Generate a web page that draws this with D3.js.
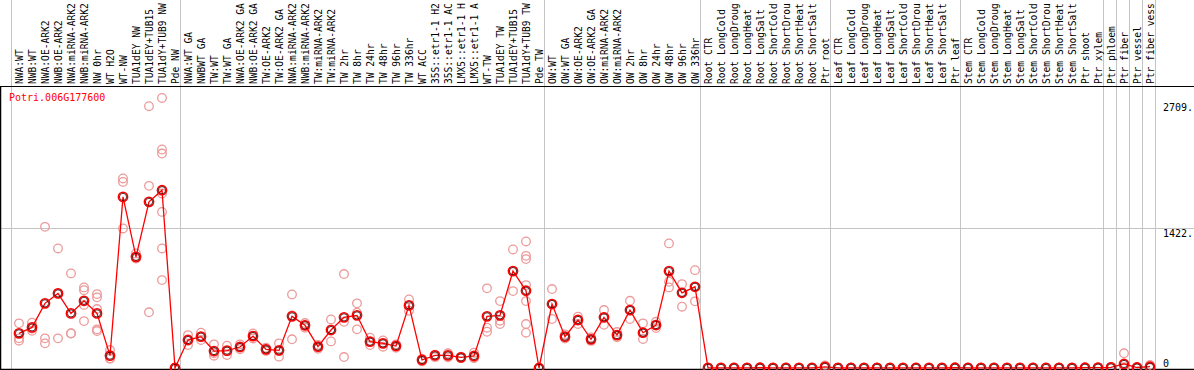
<!DOCTYPE html>
<html>
<head>
<meta charset="utf-8">
<script src="https://cdn.jsdelivr.net/npm/d3@7"></script>
<style>
  body { margin: 0; background: #fff; }
  svg { display: block; }
  text { font-family: "DejaVu Sans Mono", monospace; font-size: 10px; }
</style>
</head>
<body>
<script>
var width = 1194;
var height = 370;

var geneId = "Potri.006G177600";

var categories = [
  "NWA:WT", "NWB:WT", "NWA:OE-ARK2", "NWB:OE-ARK2", "NWA:miRNA-ARK2", "NWB:miRNA-ARK2",
  "NW 0hr", "WT H2O", "WT-NW", "TUA1dEY NW", "TUA1dEY+TUB15", "TUA1dY+TUB9 NW", "Pde NW",
  "NWA:WT GA", "NWBWT GA", "TW:WT", "TW:WT GA", "NWA:OE-ARK2 GA", "NWB:OE-ARK2 GA",
  "TW:OE-ARK2", "TW:OE-ARK2 GA", "NWA:miRNA-ARK2", "NWB:miRNA-ARK2", "TW:miRNA-ARK2",
  "TW:miRNA-ARK2", "TW 2hr", "TW 8hr", "TW 24hr", "TW 48hr", "TW 96hr", "TW 336hr",
  "WT ACC", "35S::etr1-1 H2O", "35S::etr1-1 ACC", "LMX5::etr1-1 H2O", "LMX5::etr1-1 ACC",
  "WT-TW", "TUA1dEY TW", "TUA1dEY+TUB15 TW", "TUA1dY+TUB9 TW", "Pde TW",
  "OW:WT", "OW:WT GA", "OW:OE-ARK2", "OW:OE-ARK2 GA", "OW:miRNA-ARK2", "OW:miRNA-ARK2",
  "OW 2hr", "OW 8hr", "OW 24hr", "OW 48hr", "OW 96hr", "OW 336hr",
  "Root CTR", "Root LongCold", "Root LongDrought", "Root LongHeat", "Root LongSalt",
  "Root ShortCold", "Root ShortDrought", "Root ShortHeat", "Root ShortSalt", "Ptr root",
  "Leaf CTR", "Leaf LongCold", "Leaf LongDrought", "Leaf LongHeat", "Leaf LongSalt",
  "Leaf ShortCold", "Leaf ShortDrought", "Leaf ShortHeat", "Leaf ShortSalt", "Ptr leaf",
  "Stem CTR", "Stem LongCold", "Stem LongDrought", "Stem LongHeat", "Stem LongSalt",
  "Stem ShortCold", "Stem ShortDrought", "Stem ShortHeat", "Stem ShortSalt", "Ptr shoot",
  "Ptr xylem", "Ptr phloem", "Ptr fiber", "Ptr vessel", "Ptr fiber vessel"
];

// mean expression per sample
var means = [
  352, 412, 656, 757, 554, 682, 554, 125, 1736, 1128, 1686, 1804, 0,
  284, 318, 172, 176, 213, 324, 189, 179, 524, 433, 216, 385, 514, 534, 267, 250, 223, 635,
  81, 128, 128, 108, 122, 524, 534, 983, 784, 0,
  649, 318, 487, 291, 514, 334, 588, 358, 436, 983, 763, 824,
  2, 1, 2, 1, 3, 1, 2, 1, 2, 12,
  1, 2, 1, 2, 1, 1, 2, 1, 1, 3,
  2, 1, 2, 1, 1, 2, 1, 2, 1, 3,
  4, 6, 41, 5, 13
];

// replicate values per sample
var replicates = [
  [453, 301, 277], [459, 400, 377], [1432, 301, 250], [1213, 757, 301], [960, 352, 350],
  [818, 790, 476, 640], [750, 717, 598, 392, 375], [182, 98, 95], [1923, 1888, 1416],
  [1162, 1112, 1110], [2656, 1848, 565], [2740, 2217, 2176, 1771, 1584, 1213, 892], [0, 0, 0],
  [334, 284, 233], [358, 318, 284], [240, 150, 125], [226, 170, 132], [240, 213, 190],
  [350, 324, 300], [205, 189, 172], [250, 172, 115], [747, 534, 291], [456, 433, 409],
  [235, 216, 196], [493, 392, 270], [953, 469, 111], [656, 561, 392], [307, 267, 233],
  [280, 250, 216], [240, 223, 205], [696, 635, 581],
  [95, 81, 67], [135, 128, 110], [149, 128, 108], [115, 108, 100], [155, 110, 100],
  [808, 409, 368], [679, 480, 446], [1203, 983, 780], [1284, 1138, 1105, 841, 679, 446, 358], [0, 0, 0],
  [801, 649, 497], [340, 318, 300], [520, 487, 446], [310, 291, 275], [588, 514, 439],
  [365, 334, 311], [682, 588, 497], [453, 358, 294], [469, 436, 405], [1264, 875, 818],
  [851, 763, 622], [993, 824, 676],
  [3, 2, 1], [2, 1, 0], [3, 2, 1], [2, 1, 0], [4, 3, 2], [2, 1, 0], [3, 2, 1], [2, 1, 0], [3, 2, 1], [25, 8, 4],
  [2, 1, 0], [3, 2, 1], [2, 1, 0], [3, 2, 1], [2, 1, 0], [2, 1, 0], [3, 2, 1], [2, 1, 0], [2, 1, 0], [6, 2, 1],
  [3, 2, 1], [2, 1, 0], [3, 2, 1], [2, 1, 0], [2, 1, 0], [3, 2, 1], [2, 1, 0], [3, 2, 1], [2, 1, 0], [5, 3, 1],
  [6, 4, 2], [10, 5, 3], [149, 5, 6, 4], [8, 4, 3], [30, 8, 2]
];

// index where each sample group starts (separator lines)
var groupStarts = [0, 13, 41, 53, 63, 73, 84, 85, 86, 87, 88];

var yTicks = [0, 1422, 2709];
var yTickLabels = ["0", "1422.", "2709."];
var yGrid = [1422];

var headerH = 86;
var maxChars = 14;   // header only has room for this many characters

var svg = d3.select("body").append("svg")
  .attr("width", width)
  .attr("height", height);

var x = d3.scaleLinear().domain([0, categories.length - 1]).range([19, 19 + 13 * (categories.length - 1)]);
var y = d3.scaleLinear().domain([0, 2709]).range([368, 101]);

// group separators
svg.selectAll("line.sep")
  .data(groupStarts)
  .enter()
  .append("line")
  .attr("class", "sep")
  .attr("x1", function(d){ return Math.round(x(d) - 8) + 0.5; })
  .attr("x2", function(d){ return Math.round(x(d) - 8) + 0.5; })
  .attr("y1", 0)
  .attr("y2", height)
  .attr("stroke", "#c4c4c4")
  .attr("stroke-width", 1);

// horizontal grid
svg.selectAll("line.grid")
  .data(yGrid)
  .enter()
  .append("line")
  .attr("class", "grid")
  .attr("x1", 0)
  .attr("x2", width)
  .attr("y1", function(d){ return Math.round(y(d)) + 0.5; })
  .attr("y2", function(d){ return Math.round(y(d)) + 0.5; })
  .attr("stroke", "#c4c4c4");

// frame
svg.append("line").attr("x1", 0).attr("x2", width).attr("y1", headerH + 0.5).attr("y2", headerH + 0.5)
  .attr("stroke", "#000");
svg.append("line").attr("x1", 0).attr("x2", width).attr("y1", height - 0.5).attr("y2", height - 0.5)
  .attr("stroke", "#000").attr("stroke-width", 1.5);
svg.append("line").attr("x1", 0.5).attr("x2", 0.5).attr("y1", headerH).attr("y2", height)
  .attr("stroke", "#000").attr("stroke-width", 1.5);

// sample labels, vertical
svg.selectAll("text.cat")
  .data(categories)
  .enter()
  .append("text")
  .attr("class", "cat")
  .attr("transform", function(d, i){ return "translate(" + (x(i) + 4) + "," + (headerH - 2) + ") rotate(-90)"; })
  .style("font-size", "9.6px")
  .attr("fill", "#000")
  .text(function(d){ return d.length > maxChars ? d.slice(0, maxChars) : d; });

// y axis on the right
var yAxis = d3.axisRight(y)
  .tickValues(yTicks)
  .tickSize(0)
  .tickFormat(function(d, i){ return yTickLabels[i]; });

var ax = svg.append("g")
  .attr("transform", "translate(1160,0)")
  .call(yAxis);
ax.select(".domain").remove();
ax.selectAll("text")
  .attr("x", 3)
  .attr("dy", function(d){ return d === 0 ? "-0.2em" : "0.9em"; })
  .style("font-family", "'DejaVu Sans Mono', monospace")
  .style("font-size", "10px")
  .attr("fill", "#000");

// title
svg.append("text")
  .attr("x", 9)
  .attr("y", 101)
  .attr("fill", "#f00")
  .text(geneId);

// replicate points
var repPts = [];
replicates.forEach(function(r, i){
  r.forEach(function(v){ repPts.push({ i: i, v: v }); });
});

svg.selectAll("circle.rep")
  .data(repPts)
  .enter()
  .append("circle")
  .attr("class", "rep")
  .attr("cx", function(d){ return x(d.i); })
  .attr("cy", function(d){ return y(d.v); })
  .attr("r", 4.3)
  .attr("fill", "none")
  .attr("stroke", "#ec9a9a")
  .attr("stroke-width", 1.3);

// mean line
var line = d3.line()
  .x(function(d, i){ return x(i); })
  .y(function(d){ return y(d); });

svg.append("path")
  .datum(means)
  .attr("d", line)
  .attr("fill", "none")
  .attr("stroke", "#f00")
  .attr("stroke-width", 1.3);

svg.selectAll("circle.mean")
  .data(means)
  .enter()
  .append("circle")
  .attr("class", "mean")
  .attr("cx", function(d, i){ return x(i); })
  .attr("cy", function(d){ return y(d); })
  .attr("r", 4.6)
  .attr("fill", "none")
  .attr("stroke", "#f00")
  .attr("stroke-width", 1.6);

svg.selectAll("circle.meanin")
  .data(means)
  .enter()
  .append("circle")
  .attr("class", "meanin")
  .attr("cx", function(d, i){ return x(i); })
  .attr("cy", function(d){ return y(d); })
  .attr("r", 3.6)
  .attr("fill", "none")
  .attr("stroke", "#300")
  .attr("stroke-width", 0.8);
</script>
</body>
</html>
